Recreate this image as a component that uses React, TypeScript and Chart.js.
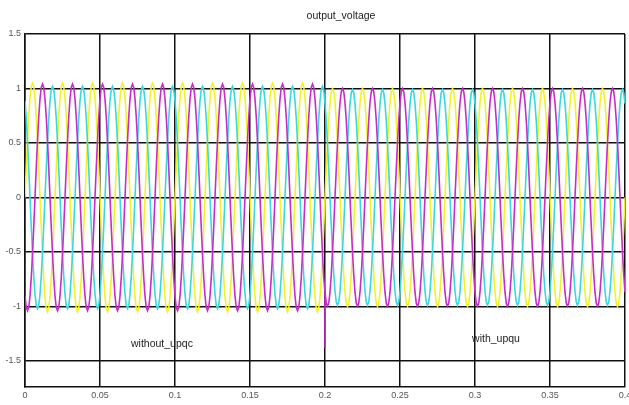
import React, { useEffect, useRef } from "react";
import { Chart, registerables } from "chart.js";

Chart.register(...registerables);

// ---- data ----
const chartTitle = "output_voltage";
const xTickValues = [0, 0.05, 0.1, 0.15, 0.2, 0.25, 0.3, 0.35, 0.4];
const yTickValues = [-1.5, -1, -0.5, 0, 0.5, 1, 1.5];
const yMin = -1.74;
const yMax = 1.5;

// one measured cycle of the per-unit phase voltage (24 samples / cycle)
const cycleShape = [
  0, 0.26, 0.5, 0.71, 0.87, 0.97, 1, 0.97, 0.87, 0.71, 0.5, 0.26,
  0, -0.26, -0.5, -0.71, -0.87, -0.97, -1, -0.97, -0.87, -0.71, -0.5, -0.26,
];
const cyclePeriod = 0.02; // s (50 Hz)
const cycleCount = 20;
const switchTime = 0.2; // UPQC switched in

const phaseNames = ["Va", "Vb", "Vc"];
const phaseColors = ["#f2f22a", "#c82cc8", "#3ad8dc"];
const phaseLagSamples = [0, 8, 16];
const peakWithoutUpqc = [1.05, 1.04, 1.02];
const peakWithUpqc = [1.0, 1.0, 0.99];

const spikePhase = 1;
const spikeTime = 0.2;
const spikeValue = -1.38;

const annotationTexts = ["without_upqc", "with_upqu"];
const annotationX = [0.0913, 0.314];
const annotationY = [-1.35, -1.3];

// ---- build series ----
function buildTrace(lag: number, ampBefore: number, ampAfter: number, spike: boolean) {
  const n = cycleShape.length;
  const dt = cyclePeriod / n;
  const pts: { x: number; y: number }[] = [];
  for (let i = 0; i <= n * cycleCount; i++) {
    const t = i * dt;
    const idx = (((i - lag) % n) + n) % n;
    const amp = t < switchTime ? ampBefore : ampAfter;
    pts.push({ x: t, y: amp * cycleShape[idx] });
    if (spike && Math.abs(t - spikeTime) < dt / 2) {
      pts.push({ x: t, y: spikeValue });
      pts.push({ x: t + dt * 0.05, y: amp * cycleShape[idx] });
    }
  }
  return pts;
}

const mainOrder = [1, 2, 0]; // magenta on top, then cyan, then yellow

export default function App() {
  const ref = useRef<HTMLCanvasElement | null>(null);

  useEffect(() => {
    if (!ref.current) return;
    const textPlugin = {
      id: "texts",
      afterDraw(chart: any) {
        const ctx = chart.ctx;
        const xs = chart.scales.x;
        const ys = chart.scales.y;
        ctx.save();
        ctx.fillStyle = "#222";
        ctx.textAlign = "center";
        ctx.textBaseline = "middle";
        ctx.font = "10.5px 'Liberation Sans', Arial, sans-serif";
        ctx.fillText(chartTitle, 341, 16);
        for (let i = 0; i < annotationTexts.length; i++) {
          ctx.fillText(
            annotationTexts[i],
            xs.getPixelForValue(annotationX[i]),
            ys.getPixelForValue(annotationY[i])
          );
        }
        ctx.restore();
      },
    };

    const chart = new Chart(ref.current, {
      type: "line",
      data: {
        datasets: mainOrder.map((p) => ({
          label: phaseNames[p],
          data: buildTrace(phaseLagSamples[p], peakWithoutUpqc[p], peakWithUpqc[p], p === spikePhase),
          borderColor: phaseColors[p],
          borderWidth: 1.6,
          pointRadius: 0,
          fill: false,
          tension: 0,
        })),
      },
      options: {
        responsive: false,
        animation: false,
        devicePixelRatio: 1,
        parsing: false,
        normalized: true,
        layout: { padding: { top: 34, right: 4, left: 0, bottom: 0 } },
        plugins: {
          legend: { display: false },
          tooltip: { enabled: false },
          title: { display: false },
        },
        scales: {
          x: {
            type: "linear",
            min: 0,
            max: 0.4,
            afterBuildTicks: (s: any) => {
              s.ticks = xTickValues.map((v) => ({ value: v }));
            },
            afterFit: (s: any) => {
              s.height = 18;
              s.paddingLeft = 0;
              s.paddingRight = 0;
            },
            ticks: {
              color: "#555",
              font: { size: 9, family: "'Liberation Sans', Arial, sans-serif" },
              padding: 3,
              maxRotation: 0,
              autoSkip: false,
              callback: (v: any) => String(Number(v)),
            },
            grid: { color: "#111", lineWidth: 1.5, drawTicks: false },
            border: { display: true, color: "#111", width: 1.5 },
          },
          y: {
            type: "linear",
            min: yMin,
            max: yMax,
            afterBuildTicks: (s: any) => {
              s.ticks = yTickValues.map((v) => ({ value: v }));
            },
            afterFit: (s: any) => {
              s.width = 25;
              s.paddingTop = 0;
              s.paddingBottom = 0;
            },
            ticks: {
              color: "#555",
              font: { size: 9, family: "'Liberation Sans', Arial, sans-serif" },
              padding: 4,
              autoSkip: false,
              callback: (v: any) => String(Number(v)),
            },
            grid: { color: "#111", lineWidth: 1.5, drawTicks: false },
            border: { display: true, color: "#111", width: 1.5 },
          },
        },
      } as any,
      plugins: [textPlugin],
    });
    return () => chart.destroy();
  }, []);

  return (
    <div style={{ position: "absolute", left: 0, top: 0, width: 629, height: 405, background: "#fff" }}>
      <canvas ref={ref} width={629} height={405} />
    </div>
  );
}
